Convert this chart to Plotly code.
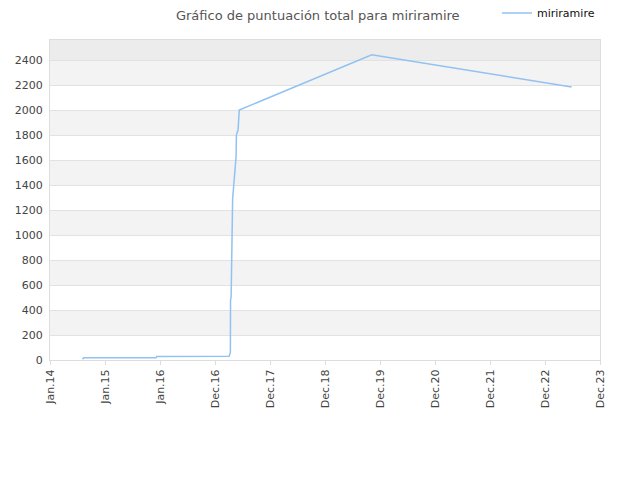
import pandas as pd
import plotly.graph_objects as go

# puntuacion acumulada de miriramire
dates = ["2014-08-05", "2014-08-12", "2015-12-06", "2015-12-10", "2017-04-04",
         "2017-04-09", "2017-04-12", "2017-04-13", "2017-04-17", "2017-04-18",
         "2017-04-25", "2017-04-27", "2017-05-10", "2017-05-12", "2017-05-20",
         "2017-05-22", "2017-05-30", "2017-06-02", "2017-06-10", "2019-11-06",
         "2023-06-25"]
scores = [6, 18, 18, 28, 30,
          56, 60, 480, 500, 576,
          1230, 1290, 1480, 1500, 1630,
          1800, 1830, 1840, 2000, 2442,
          2184]

tick_dates = pd.date_range("2014-01-01", periods=11, freq="365D")
tick_labels = ["Jan.14", "Jan.15", "Jan.16", "Dec.16", "Dec.17", "Dec.18",
               "Dec.19", "Dec.20", "Dec.21", "Dec.22", "Dec.23"]

fig = go.Figure()
fig.add_scatter(x=pd.to_datetime(dates), y=scores, mode="lines", name="miriramire",
                line=dict(color="#90c2f2", width=1.5))

# franjas grises alternas
shapes = []
for lo in range(200, 2400, 400):
    shapes.append(dict(type="rect", xref="paper", yref="y", x0=0, x1=1, y0=lo, y1=lo + 200,
                       fillcolor="#f3f3f3", line_width=0, layer="below"))
shapes.append(dict(type="rect", xref="paper", yref="y", x0=0, x1=1, y0=2400, y1=2560,
                   fillcolor="#ececec", line_width=0, layer="below"))

fig.update_layout(
    width=640, height=480,
    margin=dict(l=42, r=48, t=32, b=128, autoexpand=False),
    paper_bgcolor="white", plot_bgcolor="white",
    font=dict(family="DejaVu Sans", size=11, color="#444"),
    title=dict(text="Gráfico de puntuación total para miriramire", x=0.484, y=0.984,
               xanchor="center", yanchor="middle", font=dict(size=13, color="#555")),
    shapes=shapes,
    showlegend=True,
    legend=dict(x=1.0, y=1.084, xanchor="right", yanchor="middle", orientation="h",
                font=dict(size=11, color="#111"), bgcolor="rgba(0,0,0,0)"),
    xaxis=dict(type="date", range=[tick_dates[0], tick_dates[-1]],
               tickvals=tick_dates, ticktext=tick_labels, tickangle=-90,
               showgrid=False, showline=True, linecolor="#ddd", mirror=True,
               ticks="outside", ticklen=4, tickcolor="#ddd", zeroline=False),
    yaxis=dict(range=[0, 2560], tickvals=list(range(0, 2401, 200)),
               showgrid=True, gridcolor="#e2e2e2", showline=True, linecolor="#ddd",
               mirror=True, zeroline=False, ticks="", ticklabelstandoff=4),
)

fig.write_html("out.html")
